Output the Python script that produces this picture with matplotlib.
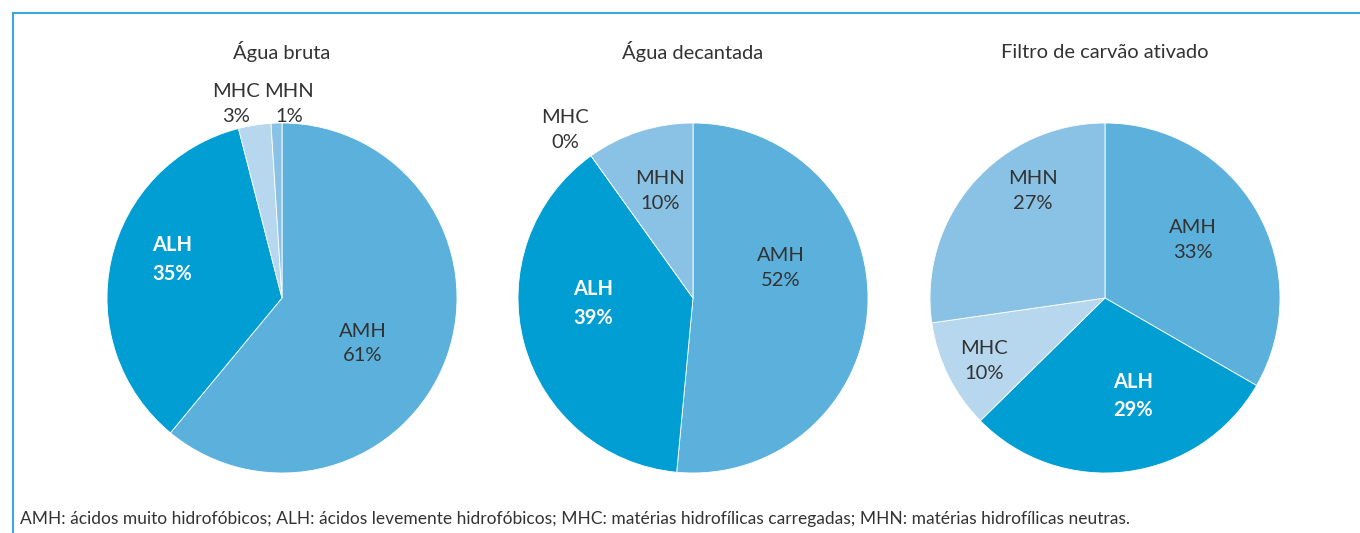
import matplotlib
matplotlib.use("Agg")
import matplotlib.pyplot as plt
from matplotlib.lines import Line2D

plt.rcParams['font.family'] = ['Lato', 'DejaVu Sans']

# data
titles = ["Água bruta", "Água decantada", "Filtro de carvão ativado"]
categories = ["AMH", "ALH", "MHC", "MHN"]
values = [
    [61, 35, 3, 1],
    [52, 39, 0, 10],
    [33, 29, 10, 27],
]
colors = ["#5bb1dc", "#009ed3", "#b6d7ee", "#8ac2e5"]

# label positions relative to each pie (unit radius)
label_pos = [
    [(0.46, -0.26), (-0.63, 0.22), (-0.26, 1.11), (0.04, 1.11)],
    [(0.50, 0.17), (-0.57, -0.03), (-0.73, 0.96), (-0.19, 0.61)],
    [(0.50, 0.33), (0.16, -0.56), (-0.69, -0.36), (-0.41, 0.61)],
]
centers_px = [282, 693, 1105]

footnote = ("AMH: ácidos muito hidrofóbicos; ALH: ácidos levemente hidrofóbicos; "
            "MHC: matérias hidrofílicas carregadas; MHN: matérias hidrofílicas neutras.")

W, H = 1360, 533
fig = plt.figure(figsize=(W / 100, H / 100), dpi=100)

R = 175
cy = H - 298
for i in range(3):
    cx = centers_px[i]
    ax = fig.add_axes([(cx - R) / W, (cy - R) / H, 2 * R / W, 2 * R / H])
    ax.pie(values[i], colors=colors, startangle=90, counterclock=False,
           radius=1, wedgeprops=dict(edgecolor="white", linewidth=0.6))
    ax.set_xlim(-1, 1)
    ax.set_ylim(-1, 1)
    ax.set_aspect("equal")
    ax.axis("off")
    for j, cat in enumerate(categories):
        x, y = label_pos[i][j]
        if cat == "ALH":
            ax.text(x, y, f"{cat}\n{values[i][j]}%", ha="center", va="center",
                    color="white", fontsize=14.5, fontweight="bold", linespacing=1.55)
        else:
            ax.text(x, y, f"{cat}\n{values[i][j]}%", ha="center", va="center",
                    color="#333333", fontsize=14.5, fontweight="normal", linespacing=1.55)
    fig.text(cx / W, (H - 52) / H, titles[i], ha="center", va="center",
             fontsize=14.5, fontweight="normal", color="#333333")

fig.text(20 / W, 14 / H, footnote, ha="left", va="center",
         fontsize=12.5, fontweight="normal", color="#333333")

# frame lines on top and left
fig.add_artist(Line2D([13 / W, 1], [(H - 13) / H] * 2, color="#3aa8dc", lw=1.5))
fig.add_artist(Line2D([13 / W] * 2, [0, (H - 13) / H], color="#3aa8dc", lw=1.5))

fig.savefig("out.png", dpi=100)
